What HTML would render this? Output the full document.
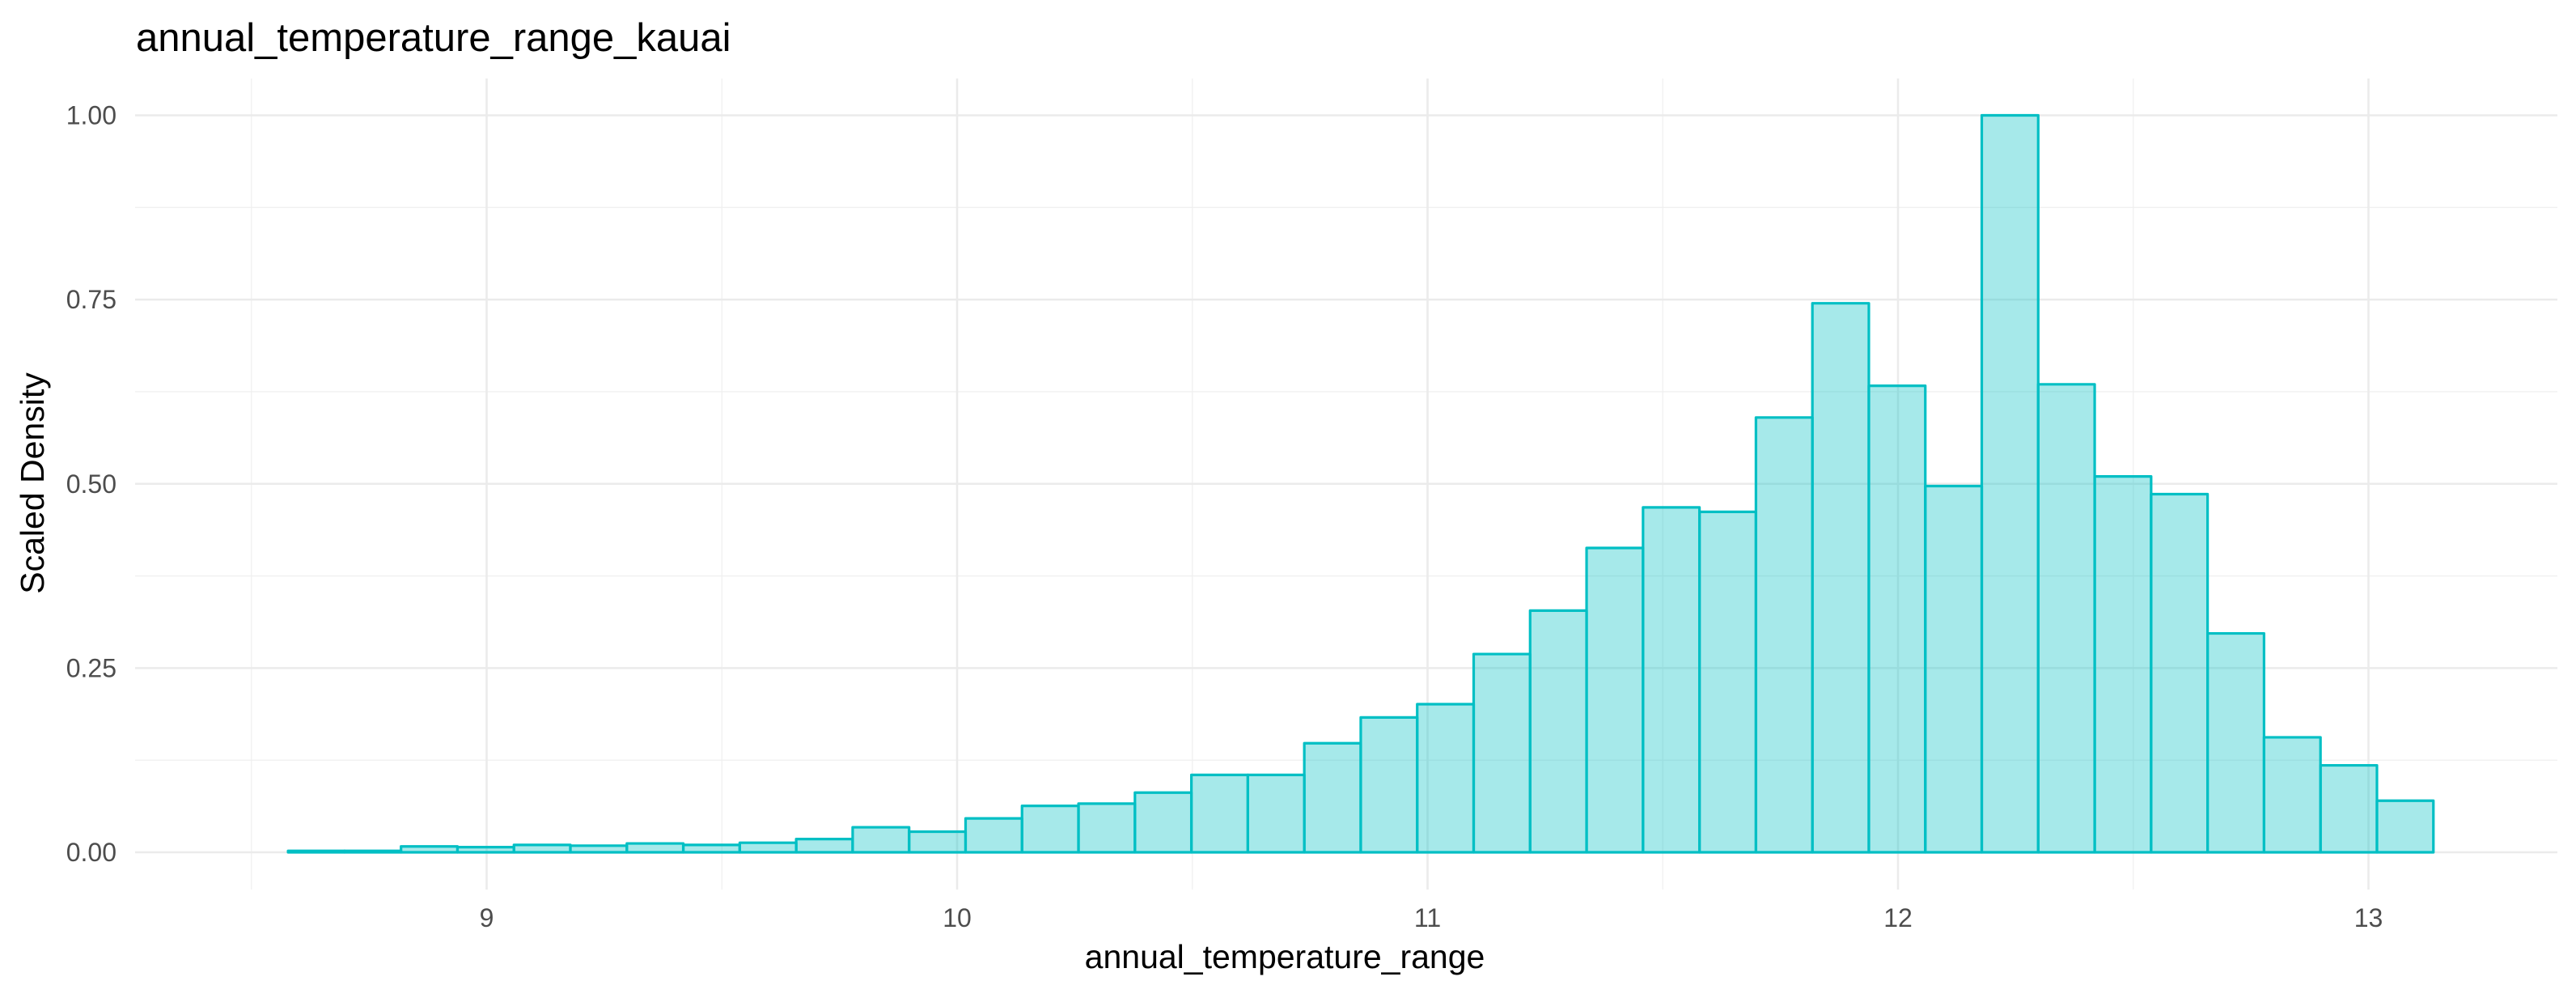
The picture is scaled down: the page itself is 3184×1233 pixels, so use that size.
<!DOCTYPE html>
<html><head><meta charset="utf-8"><style>
html,body{margin:0;padding:0;background:#fff;}
svg text{font-family:"Liberation Sans",sans-serif;}
</style></head><body>
<svg id="chart" width="3184" height="1228" viewBox="0 0 3184 1228" xmlns="http://www.w3.org/2000/svg">
<text x="168" y="63" font-size="49" fill="#000">annual_temperature_range_kauai</text>
<g id="grid"></g>
<g id="bars"></g>
<g id="axes"></g>
<text x="1588" y="1196" font-size="41" text-anchor="middle" fill="#000">annual_temperature_range</text>
<text transform="translate(54,597) rotate(-90)" font-size="41" text-anchor="middle" fill="#000">Scaled Density</text>
</svg>
<script>
const binStart = 8.578;
const binWidth = 0.1200;
const densities = [0.002,0.002,0.008,0.007,0.010,0.009,0.012,0.010,0.013,0.018,0.034,0.028,0.046,0.063,0.066,0.081,0.105,0.105,0.148,0.183,0.201,0.269,0.328,0.413,0.468,0.462,0.590,0.745,0.633,0.497,1.000,0.635,0.510,0.486,0.297,0.156,0.118,0.070];
const xTicks = [9,10,11,12,13];
const xTickLabels = ["9","10","11","12","13"];
const xMinor = [8.5,9.5,10.5,11.5,12.5,13.5];
const yTicks = [0,0.25,0.5,0.75,1];
const yTickLabels = ["0.00","0.25","0.50","0.75","1.00"];
const yMinor = [0.125,0.375,0.625,0.875];

const NS="http://www.w3.org/2000/svg";
const px0=167, px1=3161, py0=97, py1=1099;
function xs(v){return 1183+(v-10)*581.5;}
function ys(v){return 1053-v*910.5;}
function mk(tag,attrs,parent){const e=document.createElementNS(NS,tag);for(const k in attrs)e.setAttribute(k,attrs[k]);parent.appendChild(e);return e;}
const grid=document.getElementById('grid'), bars=document.getElementById('bars'), axes=document.getElementById('axes');
yMinor.forEach(v=>{const l=mk('line',{x1:px0,x2:px1,y1:ys(v),y2:ys(v),stroke:'#f0f0f0','stroke-width':1.3},grid);

});
xMinor.forEach(v=>{const l=mk('line',{x1:xs(v),x2:xs(v),y1:py0,y2:py1,stroke:'#f0f0f0','stroke-width':1.3},grid);

});
yTicks.forEach((v,i)=>{const l=mk('line',{x1:px0,x2:px1,y1:ys(v),y2:ys(v),stroke:'#ebebeb','stroke-width':2.6},grid);


const t=mk('text',{x:144,y:ys(v)+11,'font-size':32,'text-anchor':'end',fill:'#4d4d4d'},axes);t.textContent=yTickLabels[i];

});
xTicks.forEach((v,i)=>{const l=mk('line',{x1:xs(v),x2:xs(v),y1:py0,y2:py1,stroke:'#ebebeb','stroke-width':2.6},grid);


const t=mk('text',{x:xs(v),y:1145,'font-size':32,'text-anchor':'middle',fill:'#4d4d4d'},axes);t.textContent=xTickLabels[i];

});
densities.forEach((d,i)=>{const a=xs(binStart+i*binWidth), b=xs(binStart+(i+1)*binWidth);
const r=mk('rect',{x:a,y:ys(d),width:b-a,height:ys(0)-ys(d),fill:'rgba(0,191,196,0.35)',stroke:'#00BFC4','stroke-width':3.2,'stroke-linejoin':'round'},bars);

});
</script>
</body></html>
